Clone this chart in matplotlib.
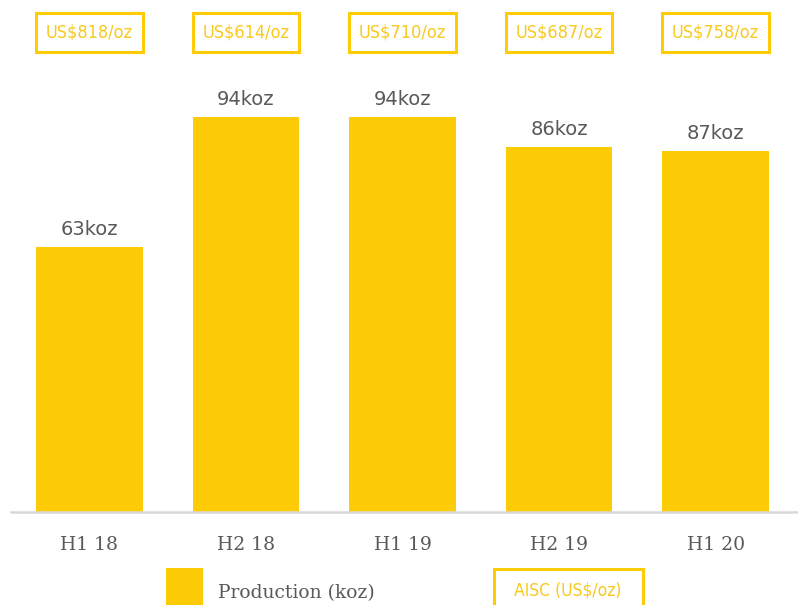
import matplotlib
matplotlib.use("Agg")
import matplotlib.pyplot as plt
from matplotlib.patches import Rectangle
from matplotlib.lines import Line2D
from matplotlib.transforms import blended_transform_factory

# Data
categories = ["H1 18", "H2 18", "H1 19", "H2 19", "H1 20"]
production = [63.1, 94.0, 94.0, 87.0, 86.0]          # bar heights
production_labels = ["63koz", "94koz", "94koz", "86koz", "87koz"]
aisc_labels = ["US$818/oz", "US$614/oz", "US$710/oz", "US$687/oz", "US$758/oz"]
legend_labels = ["Production (koz)", "AISC (US$/oz)"]

YELLOW = "#FDCC07"
BOX_TEXT = "#F8C91E"
GRAY = "#595959"
W, H = 798, 605

fig = plt.figure(figsize=(W / 100, H / 100), dpi=100)
ax = fig.add_axes([11 / W, (H - 512) / H, 783 / W, 420 / H])

x = list(range(len(categories)))
bar_w = 0.68
ax.bar(x, production, width=bar_w, color=YELLOW, zorder=2)
ax.set_xlim(-0.5, len(categories) - 0.5)
ax.set_ylim(0, 100)

for xi, v, lab in zip(x, production, production_labels):
    ax.annotate(lab, (xi, v), xytext=(0, 12.6), textcoords="offset points",
                ha="center", va="center", fontsize=14, color=GRAY,
                family="DejaVu Sans")

for s in ["top", "right", "left", "bottom"]:
    ax.spines[s].set_visible(False)
fig.add_artist(Line2D([11 / W, 1.0], [(H - 512) / H] * 2, transform=fig.transFigure,
                      color="#D9D9D9", linewidth=1.8))
ax.set_yticks([])
ax.set_xticks(x)
ax.set_xticklabels(categories, fontsize=13.5, color=GRAY, family="DejaVu Serif")
ax.tick_params(axis="x", length=0, pad=17)

# AISC boxes at top
tr = blended_transform_factory(ax.transData, fig.transFigure)
y0 = 1 - 52 / H
bh = 39 / H
for xi, lab in zip(x, aisc_labels):
    r = Rectangle((xi - bar_w / 2, y0), bar_w, bh, transform=tr, fill=False,
                  edgecolor=YELLOW, linewidth=2.2, clip_on=False)
    fig.add_artist(r)
    fig.text(xi, y0 + bh / 2, lab, transform=tr, ha="center", va="center",
             fontsize=13, color=BOX_TEXT, family="DejaVu Sans",
             fontstretch="condensed")

# Legend
fig.add_artist(Rectangle((166 / W, 0), 37 / W, (H - 568) / H, transform=fig.transFigure,
                         facecolor=YELLOW, edgecolor="none"))
fig.text(218 / W, 1 - 593 / H, legend_labels[0], ha="left", va="center",
         fontsize=13.5, color=GRAY, family="DejaVu Serif")
fig.add_artist(Rectangle((494 / W, -0.02), 149 / W, (H - 569) / H + 0.02,
                         transform=fig.transFigure, fill=False, edgecolor=YELLOW,
                         linewidth=2.2))
fig.text(568 / W, 1 - 590 / H, legend_labels[1], ha="center", va="center",
         fontsize=12.5, color=BOX_TEXT, family="DejaVu Sans",
         fontstretch="condensed")

fig.savefig("out.png", dpi=100)
